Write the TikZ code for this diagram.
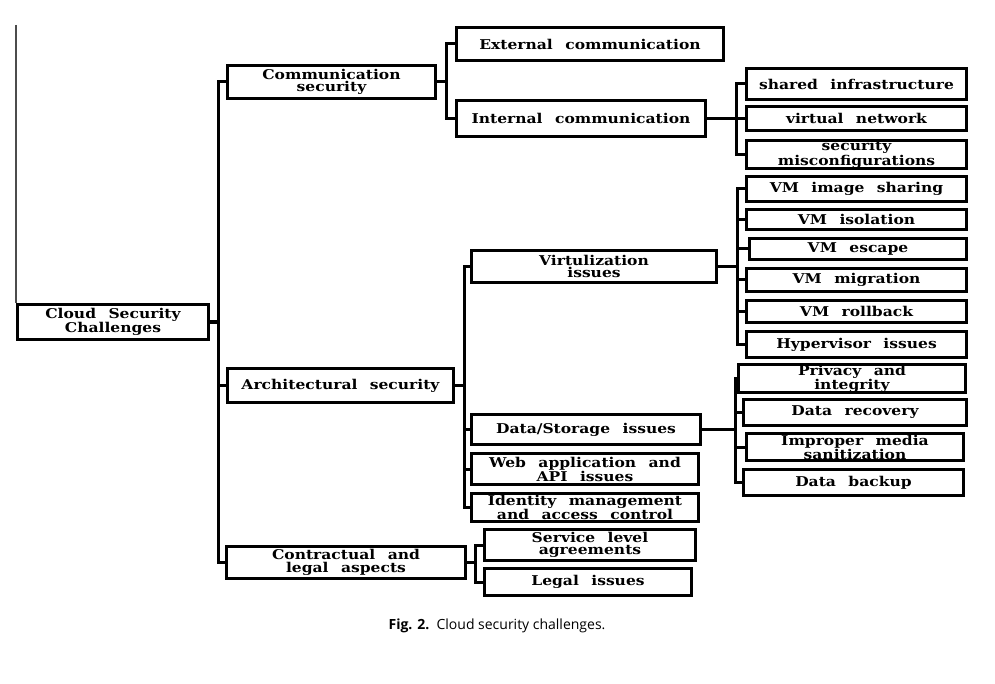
\documentclass[tikz,border=0pt]{standalone}
\usepackage{fontspec}
\setmainfont[WordSpace=2.3,FakeStretch=1.15]{DejaVu Serif}
\newfontfamily\capfont{Open Sans}
\usetikzlibrary{positioning,calc}

\begin{document}
\begin{tikzpicture}[x=1pt,y=-1pt,
    box/.style={draw,line width=3pt,inner sep=0pt,align=center,
      font=\bfseries\fontsize{13.5}{12.6}\selectfont},
    link/.style={line width=3pt}]
  \useasboundingbox (0,0) rectangle (995,684);
  % root and first level
  \node[box,minimum width=191pt,minimum height=35pt] (root) at (113,322) {Cloud Security\\Challenges};
  \node[box,minimum width=208pt,minimum height=33pt] (comm) at (331.5,82) {Communication\\security};
  \node[box,minimum width=226pt,minimum height=34pt] (arch) at (340.5,385.5) {Architectural security};
  \node[box,minimum width=239pt,minimum height=32pt] (contr) at (346,562.5) {Contractual and\\legal aspects};
  % communication
  \node[box,minimum width=267pt,minimum height=33pt] (ext) at (590,44) {External communication};
  \node[box,minimum width=249pt,minimum height=36pt] (int) at (581,118.5) {Internal communication};
  \node[box,minimum width=220pt,minimum height=31pt] (shared) at (856.5,84) {shared infrastructure};
  \node[box,minimum width=220pt,minimum height=24pt] (vnet) at (856.5,118.5) {virtual network};
  \node[box,minimum width=220pt,minimum height=28pt] (secmis) at (856.5,154.5) {security\\misconfigurations};
  % architecture
  \node[box,minimum width=245pt,minimum height=32pt] (virt) at (594,266.5) {Virtulization\\issues};
  \node[box,minimum width=229pt,minimum height=30pt] (data) at (586,429.5) {Data/Storage issues};
  \node[box,minimum width=227pt,minimum height=31pt] (web) at (585,469) {Web application and\\API issues};
  \node[box,minimum width=227pt,minimum height=28pt] (ident) at (585,507.5) {Identity management\\and access control};
  \node[box,minimum width=220pt,minimum height=25pt] (vmimg) at (856.5,189) {VM image sharing};
  \node[box,minimum width=220pt,minimum height=20pt] (vmiso) at (856.5,219.5) {VM isolation};
  \node[box,minimum width=217pt,minimum height=21pt] (vmesc) at (858,249) {VM escape};
  \node[box,minimum width=220pt,minimum height=23pt] (vmmig) at (856.5,280) {VM migration};
  \node[box,minimum width=220pt,minimum height=22pt] (vmroll) at (856.5,311.5) {VM rollback};
  \node[box,minimum width=220pt,minimum height=26pt] (hyper) at (856.5,344.5) {Hypervisor issues};
  \node[box,minimum width=227pt,minimum height=26pt] (priv) at (852,378.5) {Privacy and\\integrity};
  \node[box,minimum width=223pt,minimum height=26pt] (drec) at (855,412.5) {Data recovery};
  \node[box,minimum width=217pt,minimum height=27pt] (media) at (855,447) {Improper media\\sanitization};
  \node[box,minimum width=220pt,minimum height=26pt] (dback) at (853.5,482.5) {Data backup};
  % contractual
  \node[box,minimum width=211pt,minimum height=31pt] (sla) at (590,545) {Service level\\agreements};
  \node[box,minimum width=207pt,minimum height=27pt] (legal) at (588,582) {Legal issues};
  % trunks
  \coordinate (tmain) at (218,0);
  \coordinate (tcomm) at (446,0);
  \coordinate (tint) at (736,0);
  \coordinate (tarch) at (464,0);
  \coordinate (tvirt) at (737,0);
  \coordinate (tdata) at (735,0);
  \coordinate (tcontr) at (475,0);
  \foreach \c in {comm,arch,contr}
    \draw[link] (root.east) -- (root.east -| tmain) |- (\c.west);
  \foreach \c in {ext,int}
    \draw[link] (comm.east) -- (comm.east -| tcomm) |- (\c.west);
  \foreach \c in {shared,vnet,secmis}
    \draw[link] (int.east) -- (int.east -| tint) |- (\c.west);
  \foreach \c in {virt,data,web,ident}
    \draw[link] (arch.east) -- (arch.east -| tarch) |- (\c.west);
  \foreach \c in {vmimg,vmiso,vmesc,vmmig,vmroll,hyper}
    \draw[link] (virt.east) -- (virt.east -| tvirt) |- (\c.west);
  \foreach \c in {priv,drec,media,dback}
    \draw[link] (data.east) -- (data.east -| tdata) |- (\c.west);
  \foreach \c in {sla,legal}
    \draw[link] (contr.east) -- (contr.east -| tcontr) |- (\c.west);
  % stray rule on the left
  \coordinate (edge) at (16,25);
  \draw[black!70,line width=1.2pt] (edge) -- (edge |- root.north);
  % caption
  \node[font=\capfont\fontsize{14}{16}\selectfont] (cap) at (497,626) {\textbf{Fig. 2.}~~Cloud security challenges.};
\end{tikzpicture}
\end{document}
